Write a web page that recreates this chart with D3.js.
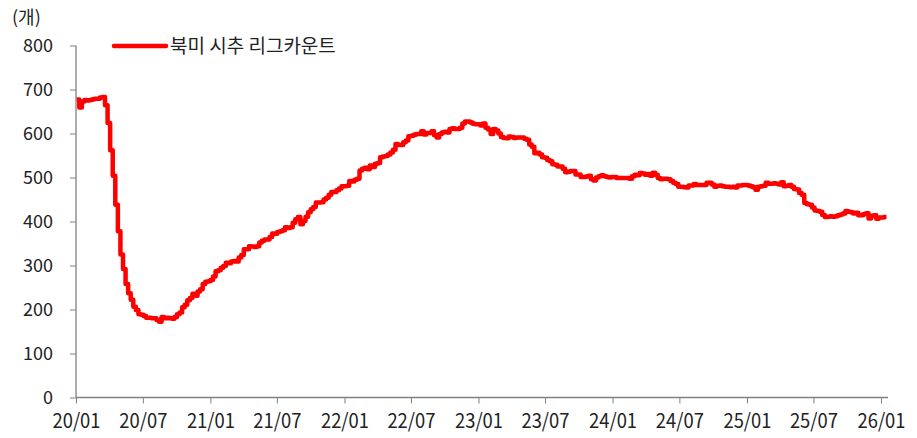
<!DOCTYPE html>
<html>
<head>
<meta charset="utf-8">
<script src="https://cdn.jsdelivr.net/npm/d3@7"></script>
<style>
  body { margin: 0; background: #fff; }
  svg text { font-family: "Noto Sans CJK KR", "Noto Sans", sans-serif; fill: #222; }
</style>
</head>
<body>
<div id="chart"></div>
<script>
// weekly US oil rig count (Friday releases), one array per year
var rigs2020 = [677,659,673,676,675,676,678,679,679,682,683,664,624,562,504,438,378,325,292,258,237,222,206,199,189,188,
                185,181,181,180,180,176,172,183,180,181,180,179,183,189,193,205,211,221,226,236,231,241,246,258,263,264];
var rigs2021 = [267,275,287,289,295,299,306,305,309,310,309,318,324,337,337,344,343,342,344,352,356,359,359,365,373,372,
                376,378,380,387,385,387,397,405,410,394,401,411,421,428,433,443,443,444,450,454,461,467,467,471,475,480,480];
var rigs2022 = [481,492,491,495,497,516,520,522,519,527,524,531,533,546,548,549,552,557,563,576,574,574,580,584,594,
                595,597,599,599,605,598,601,601,605,596,591,599,602,604,602,610,612,610,610,613,623,627,627,625,622,621,621];
var rigs2023 = [618,623,613,609,599,610,607,600,592,590,589,593,592,590,591,591,591,588,586,575,570,555,556,552,546,545,
                540,537,530,529,525,525,520,512,513,515,515,507,507,501,501,502,504,496,493,500,503,505,503,501,500,501];
var rigs2024 = [501,499,499,499,499,499,497,503,506,505,510,509,506,508,504,511,506,499,496,497,497,496,492,488,485,479,
                479,478,477,482,482,485,483,483,483,483,488,488,484,479,481,482,480,479,479,478,479,477,482,482,483,483];
var rigs2025 = [482,480,478,472,479,480,481,488,486,486,487,486,484,489,480,481,483,479,474,473,465,461,442,439,438,432,
                425,424,422,415,410,411,412,411,412,414,416,418,424,422,421,418,420,414,414,417,419,407,413,414,406,409];
var rigs2026 = [409,410,410];

var years = [2020, 2021, 2022, 2023, 2024, 2025, 2026];
var yearly = [rigs2020, rigs2021, rigs2022, rigs2023, rigs2024, rigs2025, rigs2026];

var xTickLabels = ["20/01","20/07","21/01","21/07","22/01","22/07","23/01","23/07","24/01","24/07","25/01","25/07","26/01"];
var yTicks = [0,100,200,300,400,500,600,700,800];
var seriesName = "북미 시추 리그카운트";
var unitLabel = "(개)";

var data = [];
years.forEach(function(y, i) {
    var fridays = d3.timeFriday.range(new Date(y, 0, 1), new Date(y + 1, 0, 1));
    yearly[i].forEach(function(v, j) { data.push({date: fridays[j], value: v}); });
});

var tickDates = xTickLabels.map(function(s) {
    return new Date(2000 + +s.slice(0, 2), +s.slice(3) - 1, 1);
});

var svg = d3.select("#chart").append("svg")
    .attr("width", 917)
    .attr("height", 438);

var x = d3.scaleTime()
    .domain([new Date(2020, 0, 1), new Date(2026, 0, 1)])
    .range([76, 881]);

var y = d3.scaleLinear()
    .domain([0, 800])
    .range([397.5, 45.5]);

// y axis
var yAxis = svg.append("g")
    .attr("transform", "translate(76,0)")
    .call(d3.axisLeft(y).tickValues(yTicks).tickSize(6).tickPadding(17));
yAxis.select(".domain").attr("d", "M0," + y(800) + "V" + y(0));
yAxis.selectAll(".tick text").attr("font-size", "18px");

// x axis
var xAxis = svg.append("g")
    .attr("transform", "translate(0," + y(0) + ")")
    .call(d3.axisBottom(x).tickValues(tickDates).tickSize(6).tickPadding(10)
        .tickFormat(function(d, i) { return xTickLabels[i]; }));
xAxis.select(".domain").attr("d", "M76,0H888");
xAxis.selectAll(".tick text")
    .attr("font-size", "20px")
    .attr("transform", "scale(0.92,1)");

svg.selectAll(".tick line").attr("stroke", "#808080");
svg.selectAll(".domain").attr("stroke", "#808080").attr("stroke-width", 1.3);
svg.selectAll(".tick text").attr("fill", "#222");

svg.append("text")
    .attr("x", 12)
    .attr("y", 24)
    .attr("font-size", "18px")
    .text(unitLabel);

// series
var line = d3.line()
    .curve(d3.curveStepAfter)
    .x(function(d) { return x(d.date); })
    .y(function(d) { return y(d.value); });

svg.append("path")
    .datum(data)
    .attr("fill", "none")
    .attr("stroke", "#ff0000")
    .attr("stroke-width", 4.5)
    .attr("stroke-linejoin", "round")
    .attr("d", line);

// legend
svg.append("line")
    .attr("x1", 114).attr("x2", 166)
    .attr("y1", 46).attr("y2", 46)
    .attr("stroke", "#ff0000")
    .attr("stroke-width", 4.5)
    .attr("stroke-linecap", "round");

svg.append("text")
    .attr("x", 170)
    .attr("y", 53)
    .attr("font-size", "19px")
    .text(seriesName);
</script>
</body>
</html>
